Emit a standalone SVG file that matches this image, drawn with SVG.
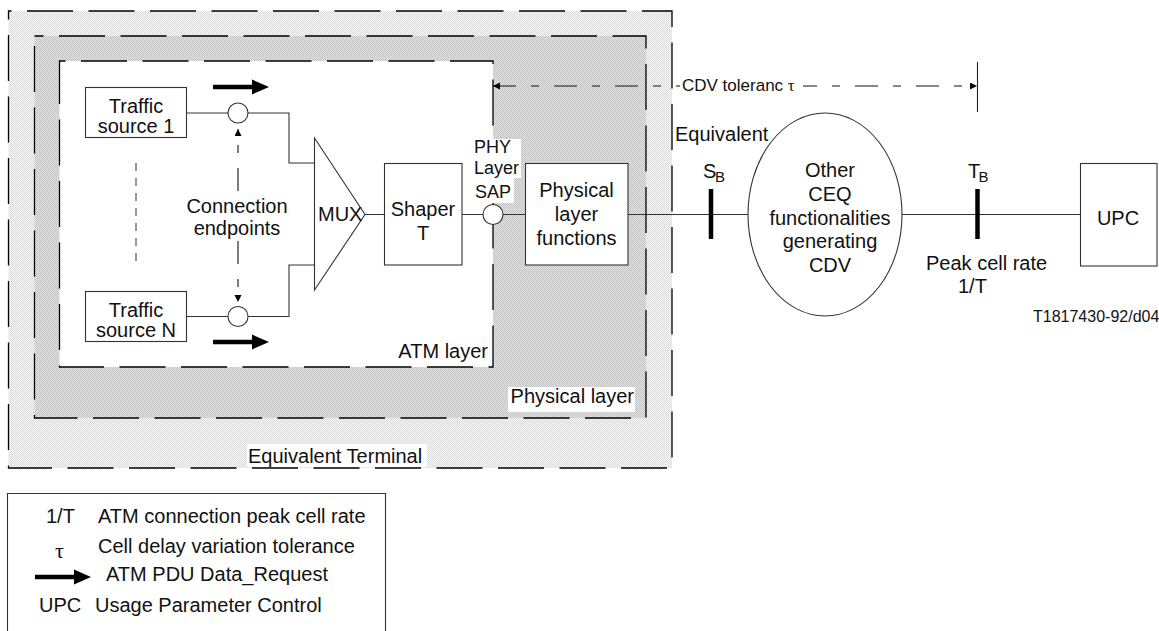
<svg xmlns="http://www.w3.org/2000/svg" width="1159" height="631" viewBox="0 0 1159 631">
<style>
text{font-family:"Liberation Sans",Arial,sans-serif;font-size:20px;fill:#111}
.c{text-anchor:middle}
.e{text-anchor:end}
.sm{font-size:18px}
.xs{font-size:17px}
.sub{font-size:15px}
.id{font-size:16px}
.tau{font-family:"Liberation Serif","DejaVu Serif",serif}
.box{fill:#fff;stroke:#333;stroke-width:1.1}
.ln{fill:none;stroke:#333;stroke-width:1.1}
.layer{stroke:#000;stroke-width:1.3;stroke-dasharray:46 15.5}
.dd{fill:none;stroke:#111;stroke-width:1.1;stroke-dasharray:23 15 8 15}
.bar{stroke:#000;stroke-width:4.5}
.wb{fill:#fff}
</style>
<defs>
<pattern id="pOuter" width="2" height="2" patternUnits="userSpaceOnUse">
<rect width="2" height="2" fill="#f5f5f5"/><rect width="1" height="1" fill="#dcdcdc"/><rect x="1" y="1" width="1" height="1" fill="#dcdcdc"/>
</pattern>
<pattern id="pPhy" width="2" height="2" patternUnits="userSpaceOnUse">
<rect width="2" height="2" fill="#e2e2e2"/><rect width="1" height="1" fill="#c4c4c4"/><rect x="1" y="1" width="1" height="1" fill="#c4c4c4"/>
</pattern>
<marker id="tri" markerUnits="userSpaceOnUse" markerWidth="8" markerHeight="8" refX="7" refY="3.5" orient="auto-start-reverse">
<path d="M0,0 L7,3.5 L0,7 z" fill="#000"/>
</marker>
<g id="boldArrow">
<line x1="0" y1="0" x2="42" y2="0" stroke="#000" stroke-width="4.5"/>
<polygon points="39,-7.5 56,0 39,7.5" fill="#000"/>
</g>
</defs>

<g id="equivalent-terminal">
<rect x="8.5" y="11" width="663.5" height="457" fill="url(#pOuter)" class="layer" stroke-dashoffset="43"/>
<rect x="247" y="444" width="180" height="23" class="wb"/>
<text x="248" y="463">Equivalent Terminal</text>
</g>

<g id="physical-layer">
<rect x="34.5" y="36" width="611.5" height="382" fill="url(#pPhy)" class="layer" stroke-dashoffset="37"/>
<rect x="508" y="387" width="127" height="25" class="wb"/>
<text x="634" y="403" class="e">Physical layer</text>
</g>

<g id="atm-layer">
<rect x="59.5" y="61" width="433.5" height="306" fill="#fff" class="layer" stroke-dashoffset="40"/>
<text x="488" y="358" class="e">ATM layer</text>
</g>

<g id="connectors">
<path class="ln" d="M187,113 H228 M248,113 H289 V163 H314"/>
<path class="ln" d="M187,316.5 H228 M248,316.5 H289 V265 H314"/>
<path class="ln" d="M365,214.5 H384 M462,214.5 H483 M503,214.5 H525 M628,214.5 H748 M902,214.5 H1080"/>
<line x1="136" y1="163" x2="136" y2="262" stroke="#444" stroke-width="1.1" stroke-dasharray="8 7"/>
<line x1="238" y1="191" x2="238" y2="129" class="dd" marker-end="url(#tri)"/>
<line x1="238" y1="241" x2="238" y2="302" class="dd" marker-end="url(#tri)"/>
<line x1="493" y1="86" x2="680" y2="86" class="dd" marker-start="url(#tri)"/>
<line x1="803" y1="86" x2="977" y2="86" class="dd" stroke-dashoffset="9" marker-end="url(#tri)"/>
<line x1="977.5" y1="62" x2="977.5" y2="112" stroke="#222" stroke-width="1.1"/>
<use href="#boldArrow" x="213" y="87"/>
<use href="#boldArrow" x="213" y="342"/>
</g>

<g id="traffic-source-1">
<rect x="85.5" y="87.5" width="101" height="50" class="box"/>
<text x="136" y="113" class="c">Traffic</text>
<text x="136" y="133" class="c">source 1</text>
</g>

<g id="traffic-source-n">
<rect x="85.5" y="291.5" width="101" height="50" class="box"/>
<text x="136" y="317" class="c">Traffic</text>
<text x="136" y="337" class="c">source N</text>
</g>

<g id="endpoint-1"><circle cx="238" cy="113" r="10" class="box"/></g>
<g id="endpoint-n"><circle cx="238" cy="316.5" r="10" class="box"/></g>

<g id="connection-endpoints">
<text x="237" y="213" class="c">Connection</text>
<text x="237" y="235" class="c">endpoints</text>
</g>

<g id="mux">
<polygon points="314.5,138 365,214.5 314.5,290" class="box"/>
<text x="318" y="221">MUX</text>
</g>

<g id="shaper">
<rect x="384.5" y="163.5" width="77.5" height="101.5" class="box"/>
<text x="423" y="216" class="c">Shaper</text>
<text x="423" y="240" class="c">T</text>
</g>

<g id="phy-sap">
<path class="wb" d="M472,139 H521 V178 H514 V203 H472 z"/>
<text x="474" y="153" class="sm">PHY</text>
<text x="474" y="174" class="sm">Layer</text>
<text x="475" y="198" class="sm">SAP</text>
<circle cx="493" cy="214.5" r="10" class="box"/>
</g>

<g id="physical-layer-functions">
<rect x="525.5" y="163.5" width="102.5" height="101.5" class="box"/>
<text x="576.5" y="197" class="c">Physical</text>
<text x="576.5" y="221" class="c">layer</text>
<text x="576.5" y="245" class="c">functions</text>
</g>

<g id="cdv-tolerance">
<text x="682" y="91" class="xs">CDV toleranc <tspan class="tau">τ</tspan></text>
</g>

<g id="equivalent-label">
<text x="675" y="141">Equivalent</text>
</g>

<g id="sb">
<line x1="711" y1="189" x2="711" y2="239" class="bar"/>
<text x="703" y="178">S</text><text x="715" y="182" class="sub">B</text>
</g>

<g id="other-ceq">
<ellipse cx="825" cy="214.5" rx="77" ry="101.5" class="box"/>
<text x="830" y="177" class="c">Other</text>
<text x="830" y="201" class="c">CEQ</text>
<text x="830" y="224.5" class="c">functionalities</text>
<text x="830" y="248" class="c">generating</text>
<text x="830" y="272" class="c">CDV</text>
</g>

<g id="tb">
<line x1="977.5" y1="189" x2="977.5" y2="239" class="bar"/>
<text x="968" y="178">T</text><text x="978.5" y="182" class="sub">B</text>
<text x="926" y="270">Peak cell rate</text>
<text x="958" y="293">1/T</text>
</g>

<g id="upc">
<rect x="1080.5" y="163.5" width="76.5" height="102.5" class="box"/>
<text x="1118" y="225" class="c">UPC</text>
</g>

<g id="figure-id">
<text x="1033" y="322" class="id">T1817430-92/d04</text>
</g>

<g id="legend">
<path d="M7.5,631 V493.5 H385.5 V631" fill="none" stroke="#333" stroke-width="1.1"/>
<text x="46" y="523">1/T</text>
<text x="98" y="523">ATM connection peak cell rate</text>
<text x="55" y="558" class="tau" style="font-size:22px">τ</text>
<text x="98" y="553">Cell delay variation tolerance</text>
<use href="#boldArrow" x="35" y="577"/>
<text x="106" y="581">ATM PDU Data_Request</text>
<text x="39" y="612">UPC</text>
<text x="95" y="612">Usage Parameter Control</text>
</g>
</svg>
